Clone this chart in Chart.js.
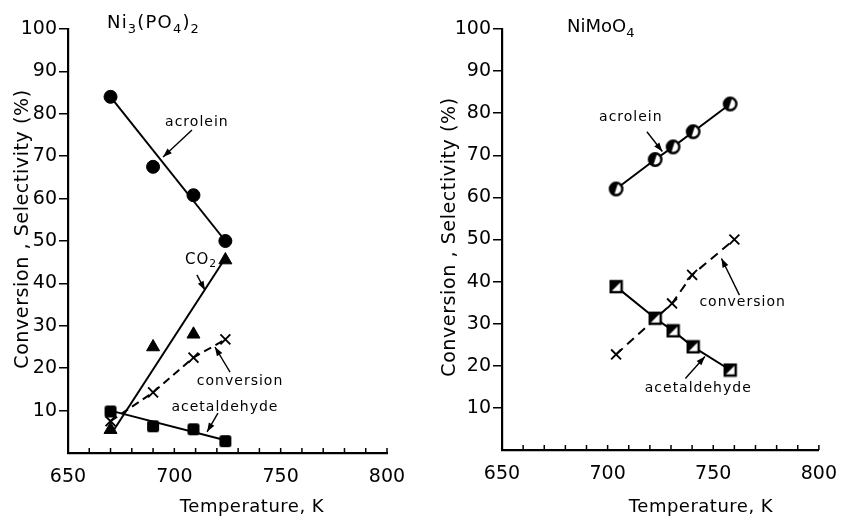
<!DOCTYPE html>
<html>
<head>
<meta charset="utf-8">
<title>Conversion and selectivity vs temperature</title>
<script src="https://cdn.jsdelivr.net/npm/chart.js@4/dist/chart.umd.min.js"></script>
<style>
  html, body { margin: 0; padding: 0; background: #fff; }
  #wrap { position: relative; width: 842px; height: 522px; overflow: hidden; }
  #wrap canvas { position: absolute; top: 0; }
</style>
</head>
<body>
<div id="wrap">
  <canvas id="leftPanel" width="421" height="522" style="left:0"></canvas>
  <canvas id="rightPanel" width="421" height="522" style="left:421px"></canvas>
</div>
<script>
// Ni3(PO4)2 catalyst
const tempsA = [670, 690, 709, 724];
const acroleinA = [84, 67.5, 60.8, 50];
const co2A = [5.5, 25, 28, 45.5];
const conversionA = [7.5, 14.3, 22.5, 26.8];
const acetaldehydeA = [9.8, 6.3, 5.6, 2.8];
// fitted straight lines for Ni3(PO4)2
const fitTempsA = [670, 724];
const acroleinFitA = [84, 50];
const co2FitTemps = [671, 724];
const co2FitA = [5, 46];
const acetaldehydeFitA = [10, 3];

// NiMoO4 catalyst
const tempsB = [704, 722.5, 731, 740.5, 758];
const acroleinB = [62, 69, 72, 75.6, 82.2];
const acetaldehydeB = [38.8, 31.3, 28.3, 24.5, 19];
const convTempsB = [704, 730.5, 740, 760];
const conversionB = [22.7, 34.8, 41.6, 50];

// axis ticks
const xTicks = [650, 700, 750, 800];
const yTicks = [10, 20, 30, 40, 50, 60, 70, 80, 90, 100];

const FONT = "'DejaVu Sans', sans-serif";
const pts = (xs, ys) => xs.map((x, i) => ({ x, y: ys[i] }));

// small canvases used as point styles
function makeMarker(size, draw) {
  const c = document.createElement('canvas');
  c.width = size; c.height = size;
  draw(c.getContext('2d'), size);
  return c;
}
const halfCircle = makeMarker(17, (g, s) => {
  const c = s / 2, r = 6.2;
  g.fillStyle = '#fff';
  g.beginPath(); g.arc(c, c, r, 0, Math.PI * 2); g.fill();
  g.fillStyle = '#000';
  g.beginPath(); g.arc(c, c, r, Math.PI * 0.6, Math.PI * 1.6); g.closePath(); g.fill();
  g.lineWidth = 2.4; g.strokeStyle = '#000';
  g.beginPath(); g.arc(c, c, r, 0, Math.PI * 2); g.stroke();
});
const halfSquare = makeMarker(15, (g, s) => {
  const a = 2, b = s - 2;
  g.fillStyle = '#fff'; g.fillRect(a, a, b - a, b - a);
  g.fillStyle = '#000';
  g.beginPath(); g.moveTo(a, a); g.lineTo(b, a); g.lineTo(a, b); g.closePath(); g.fill();
  g.lineWidth = 2.4; g.strokeStyle = '#000'; g.strokeRect(a, a, b - a, b - a);
});
const solidSquare = makeMarker(14, (g, s) => {
  g.fillStyle = '#000';
  g.beginPath(); g.roundRect(1, 1, s - 2, s - 2, 2.5); g.fill();
});

function lineSet(data, dash) {
  return {
    data, showLine: true, borderColor: '#000', borderWidth: 2,
    borderDash: dash || [], pointRadius: 0, order: 2
  };
}
function markSet(data, style, radius, extra) {
  return Object.assign({
    data, showLine: false, pointStyle: style, pointRadius: radius,
    backgroundColor: '#000', borderColor: '#000', pointBorderWidth: 1, order: 0
  }, extra || {});
}

// draws panel title, axis titles, labels with arrows and the inner minor ticks
function panelDecor(p) {
  const drawParts = (ctx, parts, x, y, size, spacing) => {
    ctx.letterSpacing = spacing + 'px';
    ctx.textAlign = 'left';
    for (const [txt, sub] of parts) {
      ctx.font = (sub ? size * 0.72 : size) + 'px ' + FONT;
      ctx.fillText(txt, x, sub ? y + size * 0.3 : y);
      x += ctx.measureText(txt).width;
    }
  };
  const arrow = (ctx, x0, y0, x1, y1) => {
    ctx.beginPath(); ctx.moveTo(x0, y0); ctx.lineTo(x1, y1); ctx.stroke();
    const ang = Math.atan2(y1 - y0, x1 - x0), L = 9, W = 3.2;
    ctx.beginPath();
    ctx.moveTo(x1, y1);
    ctx.lineTo(x1 - L * Math.cos(ang) + W * Math.sin(ang), y1 - L * Math.sin(ang) - W * Math.cos(ang));
    ctx.lineTo(x1 - L * Math.cos(ang) - W * Math.sin(ang), y1 - L * Math.sin(ang) + W * Math.cos(ang));
    ctx.closePath(); ctx.fill();
  };
  return {
    id: 'panelDecor',
    afterDraw(chart) {
      const { ctx, chartArea: a, scales: { x, y } } = chart;
      ctx.save();
      ctx.fillStyle = '#000'; ctx.strokeStyle = '#000';

      ctx.lineWidth = 1.5;
      for (let t = 650; t <= 800; t += 10) {
        const px = x.getPixelForValue(t);
        ctx.beginPath(); ctx.moveTo(px, a.bottom); ctx.lineTo(px, a.bottom - 5); ctx.stroke();
      }

      ctx.textBaseline = 'alphabetic';
      drawParts(ctx, p.title, a.left + p.titleDx, p.titleY, 18, p.titleSpacing);

      ctx.font = '18px ' + FONT;
      ctx.letterSpacing = '0.5px';
      ctx.textAlign = 'center';
      ctx.fillText('Temperature, K', a.left + p.xTitleDx, 512);

      ctx.save();
      ctx.translate(a.left - p.yTitleGap, p.yTitleY);
      ctx.rotate(-Math.PI / 2);
      ctx.font = '19px ' + FONT;
      ctx.letterSpacing = '0.6px';
      ctx.fillText('Conversion , Selectivity (%)', 0, 0);
      ctx.restore();

      ctx.lineWidth = 1.4;
      for (const n of p.notes) {
        const tx = x.getPixelForValue(n.at[0]), ty = y.getPixelForValue(n.at[1]);
        ctx.textBaseline = 'middle';
        if (n.parts) {
          drawParts(ctx, n.parts, tx - 10, ty, 15, 1);
        } else {
          ctx.font = '14px ' + FONT;
          ctx.letterSpacing = '1px';
          ctx.textAlign = 'center';
          ctx.fillText(n.text, tx, ty);
        }
        arrow(ctx, x.getPixelForValue(n.from[0]), y.getPixelForValue(n.from[1]),
          x.getPixelForValue(n.to[0]), y.getPixelForValue(n.to[1]));
      }
      ctx.restore();
    }
  };
}

function panelOptions(p) {
  return {
    responsive: false,
    animation: false,
    events: [],
    layout: { padding: { left: 0, top: 29, right: p.padRight, bottom: 0 } },
    plugins: { legend: { display: false }, tooltip: { enabled: false } },
    scales: {
      x: {
        type: 'linear', min: 650, max: 800,
        afterFit: s => { s.height = p.xAxisHeight; },
        afterBuildTicks: s => { s.ticks = xTicks.map(v => ({ value: v })); },
        grid: { display: false },
        border: { display: true, color: '#000', width: 2.2 },
        ticks: { color: '#000', padding: 5, maxRotation: 0, autoSkip: false, font: { family: FONT, size: 19 } }
      },
      y: {
        type: 'linear', min: 0, max: 100,
        afterFit: s => { s.width = p.yAxisWidth; },
        afterBuildTicks: s => { s.ticks = yTicks.map(v => ({ value: v })); },
        grid: { drawOnChartArea: false, drawTicks: true, tickLength: 9, color: '#000', lineWidth: 1.5 },
        border: { display: true, color: '#000', width: 2.2 },
        ticks: { color: '#000', padding: 2, font: { family: FONT, size: 19 } }
      }
    }
  };
}

const leftPanel = {
  padRight: 34, xAxisHeight: 69, yAxisWidth: 68,
  title: [['Ni', 0], ['3', 1], ['(PO', 0], ['4', 1], [')', 0], ['2', 1]],
  titleDx: 39, titleY: 28, titleSpacing: 1.2,
  xTitleDx: 184, yTitleGap: 40, yTitleY: 229,
  notes: [
    { text: 'acrolein', at: [710.6, 78], from: [708.3, 76.2], to: [694.7, 69.8] },
    { parts: [['CO', 0], ['2', 1]], at: [709.7, 45.5], from: [710.6, 42], to: [714.4, 38.4] },
    { text: 'conversion', at: [730.9, 17], from: [726.2, 19.1], to: [719.1, 25] },
    { text: 'acetaldehyde', at: [723.8, 10.8], from: [720.5, 9.4], to: [715.4, 5] }
  ]
};
const rightPanel = {
  padRight: 18, xAxisHeight: 72, yAxisWidth: 81,
  title: [['NiMoO', 0], ['4', 1]],
  titleDx: 65, titleY: 32, titleSpacing: 0,
  xTitleDx: 199, yTitleGap: 47, yTitleY: 237,
  notes: [
    { text: 'acrolein', at: [711, 78.9], from: [718.6, 75.6], to: [725.9, 70.9] },
    { text: 'conversion', at: [763.9, 35], from: [762.4, 36.8], to: [753.9, 45.5] },
    { text: 'acetaldehyde', at: [742.9, 14.6], from: [736.8, 17], to: [746.1, 22.2] }
  ]
};

new Chart(document.getElementById('leftPanel'), {
  type: 'scatter',
  data: {
    datasets: [
      lineSet(pts(fitTempsA, acroleinFitA)),
      lineSet(pts(co2FitTemps, co2FitA)),
      lineSet(pts(fitTempsA, acetaldehydeFitA)),
      markSet(pts(tempsA, conversionA), 'crossRot', 7,
        { showLine: true, borderDash: [8, 5], borderWidth: 2, pointBorderWidth: 1.9, order: 1 }),
      markSet(pts(tempsA, acroleinA), 'circle', 6.5),
      markSet(pts(tempsA, co2A), 'triangle', 7.5),
      markSet(pts(tempsA, acetaldehydeA), solidSquare, 7)
    ]
  },
  options: panelOptions(leftPanel),
  plugins: [panelDecor(leftPanel)]
});

new Chart(document.getElementById('rightPanel'), {
  type: 'scatter',
  data: {
    datasets: [
      lineSet(pts(tempsB, acroleinB)),
      lineSet(pts(tempsB, acetaldehydeB)),
      markSet(pts(convTempsB, conversionB), 'crossRot', 7,
        { showLine: true, borderDash: [9, 6], borderWidth: 2, pointBorderWidth: 1.9, order: 1 }),
      markSet(pts(tempsB, acroleinB), halfCircle, 8.5),
      markSet(pts(tempsB, acetaldehydeB), halfSquare, 7.5)
    ]
  },
  options: panelOptions(rightPanel),
  plugins: [panelDecor(rightPanel)]
});
</script>
</body>
</html>
